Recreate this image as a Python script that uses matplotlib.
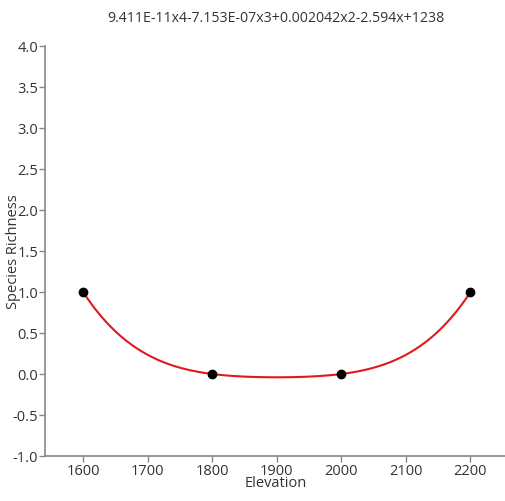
import numpy as np
import matplotlib
matplotlib.use("Agg")
import matplotlib.pyplot as plt

elevation = [1600, 1800, 2000, 2200]
richness = [1.0, 0.0, 0.0, 1.0]
lead_coef = 9.411e-11
title = "9.411E-11x4-7.153E-07x3+0.002042x2-2.594x+1238"
xticks = [1600, 1700, 1800, 1900, 2000, 2100, 2200]
yticks = [-1.0, -0.5, 0.0, 0.5, 1.0, 1.5, 2.0, 2.5, 3.0, 3.5, 4.0]

plt.rcParams['font.family'] = ['Open Sans', 'DejaVu Sans']

x = np.array(elevation, dtype=float)
y = np.array(richness)
m = x.mean()
u = x - m
cub = np.polyfit(u, y - lead_coef * u**4, 3)
xs = np.linspace(x.min(), x.max(), 300)
us = xs - m
ys = lead_coef * us**4 + np.polyval(cub, us)

fs = 10.5
fig = plt.figure(figsize=(5.06, 5.02), dpi=100)
ax = fig.add_axes([45/506, 45/502, 461/506, 410/502])
ax.plot(xs, ys, color='#e0191c', lw=1.5, zorder=2)
ax.scatter(x, y, s=36, color='black', zorder=3)

ax.set_xlim(1541, 2255)
ax.set_ylim(-1.0, 4.0)
ax.set_xticks(xticks)
ax.set_yticks(yticks)
ax.set_yticklabels([f"{v:.1f}" for v in yticks])
for s in ['top', 'right']:
    ax.spines[s].set_visible(False)
for s in ['left', 'bottom']:
    ax.spines[s].set_color('#888888')
    ax.spines[s].set_linewidth(1.2)
ax.tick_params(colors='#888888', labelcolor='#333333', labelsize=fs, length=4, width=1, pad=1)
ax.set_xlabel('Elevation', fontsize=fs, color='#333333', labelpad=-2)
fig.text(14/506, 1 - 252/502, 'Species Richness', rotation=90, ha='center', va='center',
         fontsize=fs, color='#333333')
fig.text(276/506, 1 - 18/502, title, ha='center', va='center', fontsize=10.2, color='#333333')

fig.savefig('out.png', dpi=100)
